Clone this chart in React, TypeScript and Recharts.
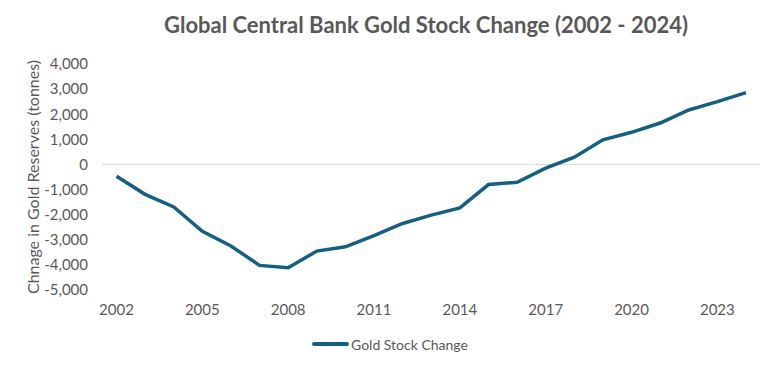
import { LineChart, Line, XAxis, YAxis, ReferenceLine } from 'recharts'

const YEARS = [
  '2002', '2003', '2004', '2005', '2006', '2007', '2008', '2009', '2010', '2011', '2012',
  '2013', '2014', '2015', '2016', '2017', '2018', '2019', '2020', '2021', '2022', '2023', '2024',
]

// change in gold reserves, tonnes
const STOCK_CHANGE = [
  -470, -1190, -1690, -2660, -3250, -4020, -4110, -3450, -3280, -2830, -2350,
  -2020, -1730, -800, -710, -150, 290, 980, 1280, 1650, 2170, 2500, 2860,
]

const Y_TICKS = [-5000, -4000, -3000, -2000, -1000, 0, 1000, 2000, 3000, 4000]

const SERIES_NAME = 'Gold Stock Change'
const TITLE = 'Global Central Bank Gold Stock Change (2002 - 2024)'
const Y_LABEL = 'Chnage in Gold Reserves (tonnes)'

const LINE_COLOR = '#156082'
const TEXT_COLOR = '#595959'
const FONT = 'Lato, "Open Sans", sans-serif'

const data = YEARS.map((year, i) => ({ year, change: STOCK_CHANGE[i] }))

const fmt = (v: number) => v.toLocaleString('en-US')

export default function App() {
  return (
    <div style={{ position: 'absolute', top: 0, left: 0, width: 778, height: 369, background: '#fff', fontFamily: FONT }}>
      <div
        style={{
          position: 'absolute',
          top: 11,
          left: 426,
          transform: 'translateX(-50%)',
          whiteSpace: 'nowrap',
          fontSize: 22,
          fontWeight: 700,
          color: TEXT_COLOR,
          lineHeight: 'normal',
        }}
      >
        {TITLE}
      </div>
      <LineChart width={778} height={369} data={data} margin={{ top: 64, right: 18, left: 0, bottom: 49 }}>
        <XAxis
          dataKey="year"
          interval={2}
          axisLine={false}
          tickLine={false}
          tickMargin={8}
          padding={{ left: 14.5, right: 14 }}
          tick={{ fill: TEXT_COLOR, fontSize: 15, fontFamily: FONT }}
        />
        <YAxis
          width={102}
          domain={[-5000, 4000]}
          ticks={Y_TICKS}
          interval={0}
          axisLine={false}
          tickLine={false}
          tickMargin={8}
          tickFormatter={fmt}
          tick={{ fill: TEXT_COLOR, fontSize: 15, fontFamily: FONT }}
          label={{ value: Y_LABEL, angle: -90, position: 'center', dx: -18, fill: TEXT_COLOR, fontSize: 16, fontFamily: FONT }}
        />
        <ReferenceLine y={0} stroke="#d9d9d9" strokeWidth={1} />
        <Line
          type="linear"
          dataKey="change"
          name={SERIES_NAME}
          stroke={LINE_COLOR}
          strokeWidth={3.5}
          dot={false}
          isAnimationActive={false}
        />
      </LineChart>
      <div style={{ position: 'absolute', top: 335, left: 312, display: 'flex', alignItems: 'center', height: 18 }}>
        <div style={{ width: 37, height: 3.5, background: LINE_COLOR, borderRadius: 2 }} />
        <span style={{ marginLeft: 2, fontSize: 14, color: TEXT_COLOR }}>{SERIES_NAME}</span>
      </div>
    </div>
  )
}
